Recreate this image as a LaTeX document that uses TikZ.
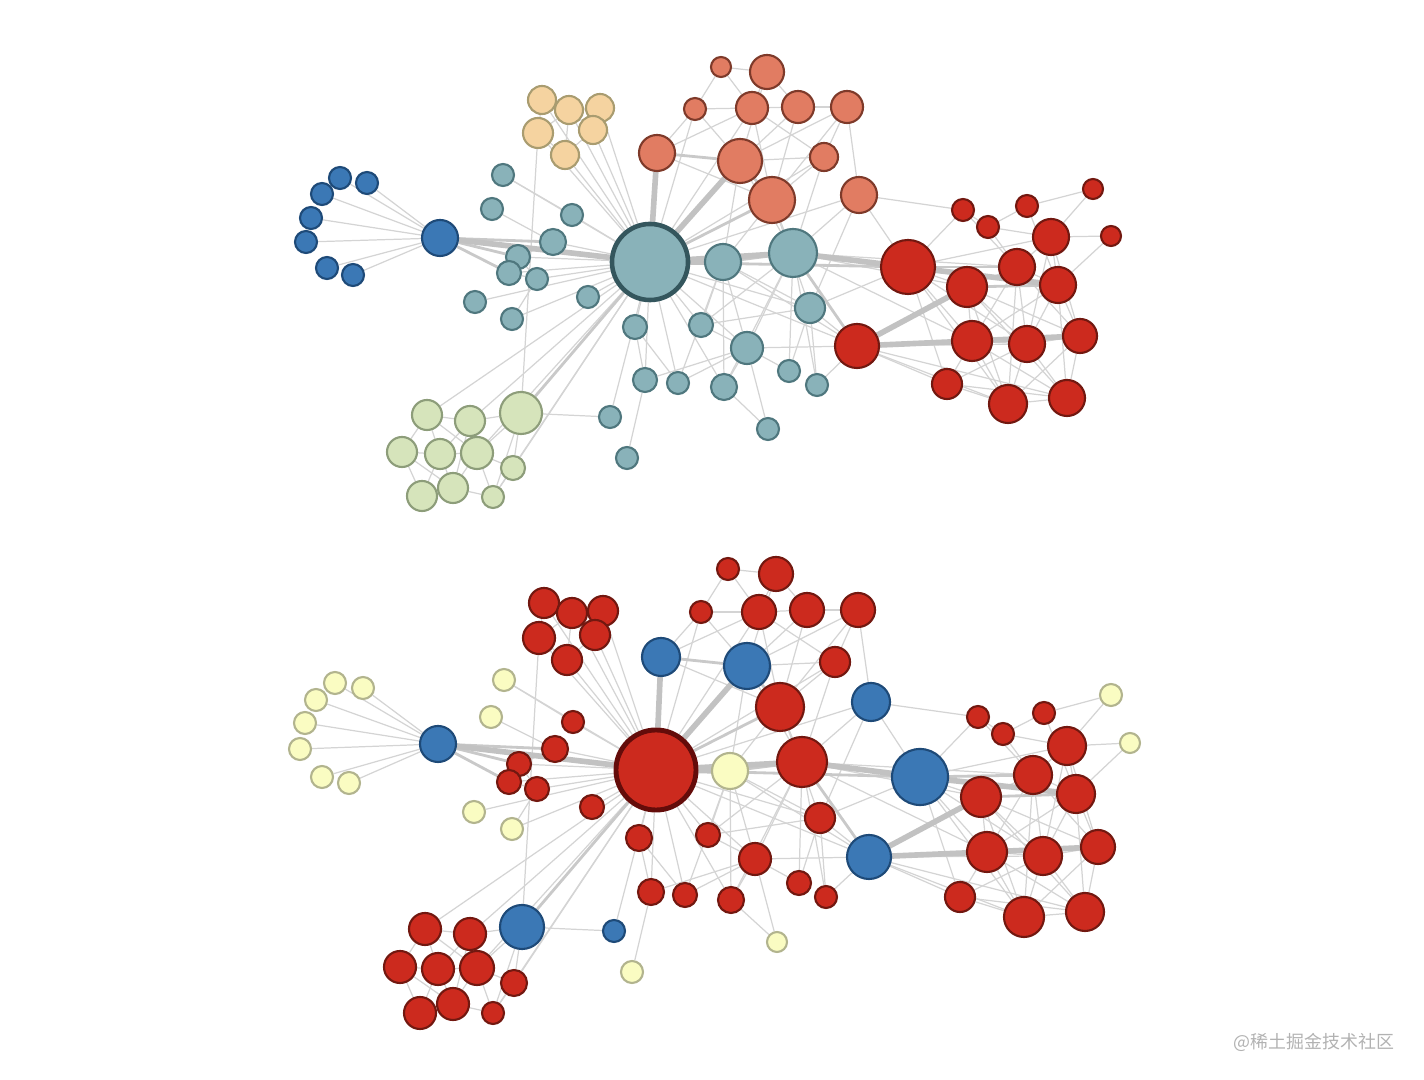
\documentclass[tikz,border=0pt]{standalone}
\usepackage{fontspec}
\newfontfamily\cjkfont{Noto Sans CJK SC}
\usetikzlibrary{backgrounds}

\definecolor{blueF}{HTML}{3B78B5}
\definecolor{blueD}{HTML}{1E4A78}
\definecolor{peachF}{HTML}{F5D3A0}
\definecolor{peachD}{HTML}{A99C70}
\definecolor{tealF}{HTML}{89B2B9}
\definecolor{tealD}{HTML}{4F777E}
\definecolor{tealDD}{HTML}{34565D}
\definecolor{greenF}{HTML}{D6E4BB}
\definecolor{greenD}{HTML}{8D9D7A}
\definecolor{orangeF}{HTML}{E17C62}
\definecolor{orangeD}{HTML}{7E3A2A}
\definecolor{redF}{HTML}{CC2A1E}
\definecolor{redD}{HTML}{721810}
\definecolor{redDD}{HTML}{640C0A}
\definecolor{yellowF}{HTML}{FAFCC2}
\definecolor{yellowD}{HTML}{B2B48E}

\begin{document}
\begin{tikzpicture}[x=0.01cm, y=-0.01cm,
    dot/.style={circle, inner sep=0pt, line width=0.6pt},
    bnode/.style={dot, fill=blueF, draw=blueD},
    pnode/.style={dot, fill=peachF, draw=peachD},
    tnode/.style={dot, fill=tealF, draw=tealD},
    gnode/.style={dot, fill=greenF, draw=greenD},
    onode/.style={dot, fill=orangeF, draw=orangeD},
    rnode/.style={dot, fill=redF, draw=redD},
    ynode/.style={dot, fill=yellowF, draw=yellowD},
    ttop/.style={tnode, draw=tealDD, line width=1.3pt},
    rbig/.style={rnode, draw=redDD, line width=1.4pt},
    link/.style={draw=black!17, line width=0.35pt},
    midlink/.style={draw=black!21, line width=0.8pt},
    thicklink/.style={draw=black!24, line width=1.6pt}]

  \useasboundingbox (0,0) rectangle (1424,1080);

  %--- Upper graph: communities
  \foreach \id/\x/\y/\r/\s in {
      M/440/238/18/bnode, L1/340/178/11/bnode, L2/367/183/11/bnode, L3/322/194/11/bnode,
      L4/311/218/11/bnode, L5/306/242/11/bnode, L6/327/268/11/bnode, L7/353/275/11/bnode,
      P1/542/100/14/pnode, P2/569/110/14/pnode, P3/600/108/14/pnode, P4/538/133/15/pnode,
      P5/593/130/14/pnode, P6/565/155/14/pnode,
      V/650/262/38/ttop,
      T1/503/175/11/tnode, T2/492/209/11/tnode, T3/572/215/11/tnode, T4/553/242/13/tnode,
      T5/518/257/12/tnode, T6/509/273/12/tnode, T7/537/279/11/tnode, T8/475/302/11/tnode,
      T9/512/319/11/tnode, T10/588/297/11/tnode, T11/635/327/12/tnode, T12/701/325/12/tnode,
      T13/645/380/12/tnode, T14/678/383/11/tnode, T15/724/387/13/tnode, T16/747/348/16/tnode,
      T17/789/371/11/tnode, T18/817/385/11/tnode, T19/810/308/15/tnode, T20/768/429/11/tnode,
      T21/610/417/11/tnode, T22/627/458/11/tnode, T23/723/262/18/tnode, T24/793/253/24/tnode,
      G0/521/413/21/gnode, G1/427/415/15/gnode, G2/470/421/15/gnode, G3/402/452/15/gnode,
      G4/440/454/15/gnode, G5/477/453/16/gnode, G6/513/468/12/gnode, G7/422/496/15/gnode,
      G8/453/488/15/gnode, G9/493/497/11/gnode,
      O1/721/67/10/onode, O2/767/72/17/onode, O3/695/109/11/onode, O4/752/108/16/onode,
      O5/798/107/16/onode, O6/847/107/16/onode, O7/657/153/18/onode, O8/740/161/22/onode,
      O9/824/157/14/onode, O10/772/200/23/onode, O11/859/195/18/onode,
      R1/963/210/11/rnode, R2/1027/206/11/rnode, R3/1093/189/10/rnode, R4/988/227/11/rnode,
      R5/1051/237/18/rnode, R6/1111/236/10/rnode, R7/908/267/27/rnode, R8/1017/267/18/rnode,
      R9/1058/285/18/rnode, R10/967/287/20/rnode, R11/857/346/22/rnode, R12/972/341/20/rnode,
      R13/1027/344/18/rnode, R14/1080/336/17/rnode, R15/947/384/15/rnode, R16/1008/404/19/rnode,
      R17/1067/398/18/rnode}
    \node[\s, minimum size=\r*0.02cm] (a\id) at (\x,\y) {};

  %--- Lower graph: same network, two-colour split
  \foreach \id/\x/\y/\r/\s in {
      M/438/744/18/bnode, L1/335/683/11/ynode, L2/363/688/11/ynode, L3/316/700/11/ynode,
      L4/305/723/11/ynode, L5/300/749/11/ynode, L6/322/777/11/ynode, L7/349/783/11/ynode,
      P1/544/603/15/rnode, P2/572/613/15/rnode, P3/603/611/15/rnode, P4/539/638/16/rnode,
      P5/595/635/15/rnode, P6/567/660/15/rnode,
      V/656/770/40/rbig,
      T1/504/680/11/ynode, T2/491/717/11/ynode, T3/573/722/11/rnode, T4/555/749/13/rnode,
      T5/519/764/12/rnode, T6/509/782/12/rnode, T7/537/789/12/rnode, T8/474/812/11/ynode,
      T9/512/829/11/ynode, T10/592/807/12/rnode, T11/639/838/13/rnode, T12/708/835/12/rnode,
      T13/651/892/13/rnode, T14/685/895/12/rnode, T15/731/900/13/rnode, T16/755/859/16/rnode,
      T17/799/883/12/rnode, T18/826/897/11/rnode, T19/820/818/15/rnode, T20/777/942/10/ynode,
      T21/614/931/11/bnode, T22/632/972/11/ynode, T23/730/771/18/ynode, T24/802/762/25/rnode,
      G0/522/927/22/bnode, G1/425/929/16/rnode, G2/470/934/16/rnode, G3/400/967/16/rnode,
      G4/438/969/16/rnode, G5/477/968/17/rnode, G6/514/983/13/rnode, G7/420/1013/16/rnode,
      G8/453/1004/16/rnode, G9/493/1013/11/rnode,
      O1/728/569/11/rnode, O2/776/574/17/rnode, O3/701/612/11/rnode, O4/759/612/17/rnode,
      O5/807/610/17/rnode, O6/858/610/17/rnode, O7/661/657/19/bnode, O8/747/666/23/bnode,
      O9/835/662/15/rnode, O10/780/707/24/rnode, O11/871/702/19/bnode,
      R1/978/717/11/rnode, R2/1044/713/11/rnode, R3/1111/695/11/ynode, R4/1003/734/11/rnode,
      R5/1067/746/19/rnode, R6/1130/743/10/ynode, R7/920/777/28/bnode, R8/1033/775/19/rnode,
      R9/1076/794/19/rnode, R10/981/797/20/rnode, R11/869/857/22/bnode, R12/987/852/20/rnode,
      R13/1043/856/19/rnode, R14/1098/847/17/rnode, R15/960/897/15/rnode, R16/1024/917/20/rnode,
      R17/1085/912/19/rnode}
    \node[\s, minimum size=\r*0.02cm] (b\id) at (\x,\y) {};

  %--- Links (same edge list for both graphs)
  \begin{pgfonlayer}{background}
  \foreach \g in {a,b} {
    \foreach \u/\v in {
        M/L1, M/L2, M/L3, M/L4, M/L5, M/L6, M/L7,
        T1/T3, T3/V, T2/T4, T4/V, T5/V, T6/V, T7/V, T5/T4, T6/T7, T8/V, T9/V, T10/V,
        T11/V, T12/V, T13/V, T14/V, T15/T16, T16/V, T17/T16, T18/T19, T19/V, T20/T16,
        T21/V, T22/T13, T12/T23, T13/T11, T14/T16, T15/V, T17/T24, T19/T23, T9/T7,
        T5/T7, T1/V, T13/T16, T20/T15, T11/T14, T12/T16, T12/T19, T17/T19, T18/T24,
        T23/T16, T23/T15, T24/T16, T24/T15, T12/T24, T14/T23,
        G1/G2, G1/G3, G1/G4, G2/G4, G3/G4, G3/G7, G4/G5, G4/G8, G5/G6, G7/G8, G8/G9,
        G4/G7, G5/G8, G6/G9, G2/G0, G6/G0, G9/G0, G0/T21, P4/G0, G2/V, G5/V, G6/V, G9/V, G1/V,
        G0/G5, G1/G5, G3/G8, G5/G9, G2/G8,
        P1/P2, P2/P3, P1/P4, P2/P5, P4/P6, P5/P6, P2/P6, P3/P5, P4/P2,
        P1/V, P2/V, P3/V, P4/V, P5/V, P6/V,
        O1/O4, O2/O4, O2/O5, O4/O5, O5/O6, O3/O8, O3/V, O9/O8, O9/O10, O11/O6, O11/V,
        O11/R1, O6/O9, O5/O10, O6/O8, O10/T24, O11/T24, O11/R7, O7/O3, O7/O4, O4/O10,
        O2/O8, O5/O8, O1/O3, O4/V, O9/V, O6/O10, O10/T23, O8/T23, O10/T19, O9/T24,
        O11/T19, O3/O4, O1/O2, O7/O10, O8/T24, O4/O9,
        R4/R1, R4/R2, R2/R3, R5/R6, R5/R8, R5/R9, R8/R9, R8/R10, R8/R12, R8/R13, R9/R13,
        R9/R14, R10/R12, R12/R13, R13/R14, R12/R16, R13/R16, R13/R17, R14/R17, R15/R16,
        R16/R17, R12/R15, R9/R17, R10/R13, R8/R14, R12/R17, R10/R16, R9/R12, R5/R13,
        R7/R1, R4/R8, R11/R15, R11/R16, R11/R13, R11/R17, R15/R13, R14/R16, R7/R12,
        R7/R13, R7/R5, T19/R11, T18/R11, T24/R12, T24/R8, T24/R10, T23/R11, T16/R11, V/R11,
        R7/T19, R7/R10, R7/R15, R7/R16, R10/R14, R10/R17, R1/R8, R2/R9, R3/R5, R6/R9,
        R4/R5, R15/R17, R5/R14, R8/R16}
      \draw[link] (\g\u) -- (\g\v);
    \foreach \u/\v in {M/T5, M/T6, M/T4, T23/T24, O8/O10, O7/O8, O10/V, R7/V,
        R11/T24, G2/G5, R7/R8, R10/R9, G0/V}
      \draw[midlink] (\g\u) -- (\g\v);
    \foreach \u/\v in {M/V, O7/V, O8/V, T23/V, T24/V, R7/T24, R11/R10, R11/R12,
        R7/R9, R12/R14}
      \draw[thicklink] (\g\u) -- (\g\v);
  }
  \end{pgfonlayer}

  %--- Watermark
  \node[anchor=east, inner sep=0pt, text=black!30,
        font=\cjkfont\fontsize{5.1pt}{6pt}\selectfont]
    (mark) at (1395,1042) {@稀土掘金技术社区};

\end{tikzpicture}
\end{document}
